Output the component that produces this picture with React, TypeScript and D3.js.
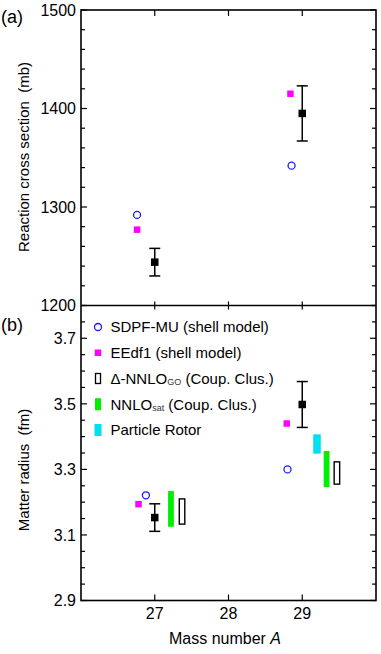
import React, {useRef, useEffect} from 'react';
import * as d3 from 'd3';

// ---- data ----
const massNumbers = [27, 29];

// panel (a): reaction cross section (mb)
const expSigma = [1244, 1395];
const expSigmaErr = [14, 28];
const sdpfSigmaA = [26.76, 28.855];
const sdpfSigma = [1292, 1342];
const eedfSigmaA = [26.76, 28.84];
const eedfSigma = [1277, 1415];

// panel (b): matter radius (fm)
const expRadius = [3.153, 3.498];
const expRadiusErr = [0.042, 0.07];
const sdpfRadiusA = [26.88, 28.8];
const sdpfRadius = [3.221, 3.30];
const eedfRadiusA = [26.78, 28.79];
const eedfRadius = [3.194, 3.44];
const nnloSatA = [27.22, 29.33];
const nnloSatLow = [3.125, 3.246];
const nnloSatHigh = [3.234, 3.356];
const deltaGoA = [27.37, 29.47];
const deltaGoLow = [3.133, 3.255];
const deltaGoHigh = [3.21, 3.323];
const rotorA = [29.2];
const rotorLow = [3.348];
const rotorHigh = [3.407];

const xTicks = [27, 28, 29];
const sigmaMajor = [1200, 1300, 1400, 1500];
const radiusMajor = [2.9, 3.1, 3.3, 3.5, 3.7];

const legendItems = ['SDPF-MU', 'EEdf1', 'DeltaGO', 'NNLOsat', 'Rotor'];

const FONT = 'Liberation Sans, Arial, Helvetica, sans-serif';
const MAGENTA = '#ff00ff';
const GREEN = '#00ee00';
const CYAN = '#00e0f0';
const BLUE = '#1a1aff';

const Chart = ({width = 381, height = 654}) => {
    const svgRef = useRef(null);

    useEffect(() => {
        const margin = {left: 81, right: 5, top: 10, mid: 305.5, bottom: 600.5};

        const svg = d3.select(svgRef.current);
        svg.selectAll('*').remove();

        const x = d3.scaleLinear().domain([26, 30]).range([margin.left, width - margin.right]);
        const ySigma = d3.scaleLinear().domain([1200, 1500]).range([margin.mid, margin.top]);
        const yRad = d3.scaleLinear().domain([2.9, 3.8]).range([margin.bottom, margin.mid]);

        // ticks on both sides, inward
        function yTicks(scale, step, nMinorPerMajor, major, fmt) {
            const [lo, hi] = scale.domain();
            const n = Math.round((hi - lo) / step);
            for (let i = 0; i <= n; i++) {
                const v = lo + i * step;
                const isMajor = i % nMinorPerMajor === 0;
                const len = isMajor ? 6 : 4;
                const yy = scale(v);
                svg.append('line').attr('x1', x.range()[0]).attr('x2', x.range()[0] + len)
                    .attr('y1', yy).attr('y2', yy).attr('stroke', 'black').attr('stroke-width', 1.2);
                svg.append('line').attr('x1', x.range()[1]).attr('x2', x.range()[1] - len)
                    .attr('y1', yy).attr('y2', yy).attr('stroke', 'black').attr('stroke-width', 1.2);
            }
            major.forEach(v => {
                svg.append('text')
                    .attr('x', x.range()[0] - 5)
                    .attr('y', scale(v))
                    .attr('dy', '0.36em')
                    .attr('text-anchor', 'end')
                    .attr('font-family', FONT)
                    .attr('font-size', '16px')
                    .text(fmt(v));
            });
        }

        yTicks(ySigma, 20, 5, sigmaMajor, d3.format('d'));
        yTicks(yRad, 0.05, 4, radiusMajor, d3.format('.1f'));

        // x ticks
        xTicks.forEach(v => {
            const xx = x(v);
            svg.append('line').attr('x1', xx).attr('x2', xx).attr('y1', margin.top).attr('y2', margin.top + 6)
                .attr('stroke', 'black').attr('stroke-width', 1.2);
            svg.append('line').attr('x1', xx).attr('x2', xx).attr('y1', margin.mid - 4).attr('y2', margin.mid + 4)
                .attr('stroke', 'black').attr('stroke-width', 1.2);
            svg.append('line').attr('x1', xx).attr('x2', xx).attr('y1', margin.bottom).attr('y2', margin.bottom - 6)
                .attr('stroke', 'black').attr('stroke-width', 1.2);
            svg.append('text')
                .attr('x', xx).attr('y', 619)
                .attr('text-anchor', 'middle')
                .attr('font-family', FONT).attr('font-size', '16px')
                .text(v);
        });

        // frames
        svg.append('rect')
            .attr('x', x.range()[0]).attr('y', margin.top)
            .attr('width', x.range()[1] - x.range()[0]).attr('height', margin.bottom - margin.top)
            .attr('fill', 'none').attr('stroke', 'black').attr('stroke-width', 1.6);
        svg.append('line')
            .attr('x1', x.range()[0]).attr('x2', x.range()[1])
            .attr('y1', margin.mid).attr('y2', margin.mid)
            .attr('stroke', 'black').attr('stroke-width', 1.6);

        // axis labels
        svg.append('text')
            .attr('transform', 'translate(29,157) rotate(-90)')
            .attr('text-anchor', 'middle')
            .attr('font-family', FONT).attr('font-size', '15px')
            .attr('xml:space', 'preserve')
            .text('Reaction cross section  (mb)');
        svg.append('text')
            .attr('transform', 'translate(29,470) rotate(-90)')
            .attr('text-anchor', 'middle')
            .attr('font-family', FONT).attr('font-size', '15px')
            .attr('xml:space', 'preserve')
            .text('Matter radius  (fm)');
        const xl = svg.append('text')
            .attr('x', 225).attr('y', 644)
            .attr('text-anchor', 'middle')
            .attr('font-family', FONT).attr('font-size', '16px');
        xl.append('tspan').text('Mass number ');
        xl.append('tspan').attr('font-style', 'italic').text('A');

        svg.append('text').attr('x', 1).attr('y', 23)
            .attr('font-family', FONT).attr('font-size', '18px').text('(a)');
        svg.append('text').attr('x', 1).attr('y', 331)
            .attr('font-family', FONT).attr('font-size', '18px').text('(b)');

        // marker helpers
        const circle = (g, cx, cy) => g.append('circle').attr('cx', cx).attr('cy', cy).attr('r', 3.5)
            .attr('fill', 'none').attr('stroke', BLUE).attr('stroke-width', 1.3);
        const square = (g, cx, cy, s, color) => g.append('rect')
            .attr('x', cx - s / 2).attr('y', cy - s / 2).attr('width', s).attr('height', s).attr('fill', color);
        const errbar = (g, cx, cy, lo, hi) => {
            g.append('line').attr('x1', cx).attr('x2', cx).attr('y1', lo).attr('y2', hi)
                .attr('stroke', 'black').attr('stroke-width', 1.5);
            [lo, hi].forEach(yy => g.append('line').attr('x1', cx - 5.5).attr('x2', cx + 5.5)
                .attr('y1', yy).attr('y2', yy).attr('stroke', 'black').attr('stroke-width', 1.5));
            square(g, cx, cy, 7.5, 'black');
        };

        const g = svg.append('g');

        // panel (a)
        sdpfSigma.forEach((v, i) => circle(g, x(sdpfSigmaA[i]), ySigma(v)));
        eedfSigma.forEach((v, i) => square(g, x(eedfSigmaA[i]), ySigma(v), 6.5, MAGENTA));
        expSigma.forEach((v, i) => errbar(g, x(massNumbers[i]), ySigma(v),
            ySigma(v - expSigmaErr[i]), ySigma(v + expSigmaErr[i])));

        // panel (b)
        const band = (a, lo, hi, w, fill, stroke) => g.append('rect')
            .attr('x', x(a) - w / 2).attr('y', yRad(hi))
            .attr('width', w).attr('height', yRad(lo) - yRad(hi))
            .attr('fill', fill).attr('stroke', stroke || 'none').attr('stroke-width', 1.4);

        rotorA.forEach((a, i) => band(a, rotorLow[i], rotorHigh[i], 7.5, CYAN));
        nnloSatA.forEach((a, i) => band(a, nnloSatLow[i], nnloSatHigh[i], 5.8, GREEN));
        deltaGoA.forEach((a, i) => band(a, deltaGoLow[i], deltaGoHigh[i], 5.5, 'white', 'black'));
        sdpfRadius.forEach((v, i) => circle(g, x(sdpfRadiusA[i]), yRad(v)));
        eedfRadius.forEach((v, i) => square(g, x(eedfRadiusA[i]), yRad(v), 6.5, MAGENTA));
        expRadius.forEach((v, i) => errbar(g, x(massNumbers[i]), yRad(v),
            yRad(v - expRadiusErr[i]), yRad(v + expRadiusErr[i])));

        // legend
        const legY = d3.scalePoint().domain(legendItems).range([327, 430]);
        const lx = 98;
        const tx = 110.5;
        legendItems.forEach(key => {
            const yy = legY(key);
            const t = svg.append('text').attr('x', tx).attr('y', yy).attr('dy', '0.36em')
                .attr('font-family', FONT).attr('font-size', '15px');
            if (key === 'SDPF-MU') {
                circle(svg, lx, yy);
                t.text('SDPF-MU (shell model)');
            } else if (key === 'EEdf1') {
                square(svg, lx, yy, 6.5, MAGENTA);
                t.text('EEdf1 (shell model)');
            } else if (key === 'DeltaGO') {
                svg.append('rect').attr('x', lx - 2.5).attr('y', yy - 5).attr('width', 5).attr('height', 10)
                    .attr('fill', 'white').attr('stroke', 'black').attr('stroke-width', 1.3);
                t.append('tspan').text('\u0394-NNLO');
                t.append('tspan').attr('font-size', '9px').attr('dy', '0.15em').attr('fill', '#333').text('GO');
                t.append('tspan').attr('dy', '-0.1em').text(' (Coup. Clus.)');
            } else if (key === 'NNLOsat') {
                svg.append('rect').attr('x', lx - 3).attr('y', yy - 6).attr('width', 6).attr('height', 12)
                    .attr('fill', GREEN);
                t.append('tspan').text('NNLO');
                t.append('tspan').attr('font-size', '9px').attr('dy', '0.2em').attr('fill', '#333').text('sat');
                t.append('tspan').attr('dy', '-0.13em').text(' (Coup. Clus.)');
            } else {
                svg.append('rect').attr('x', lx - 3.5).attr('y', yy - 6).attr('width', 7).attr('height', 12)
                    .attr('fill', CYAN);
                t.text('Particle Rotor');
            }
        });
    }, [width, height]);

    return <svg ref={svgRef} width={width} height={height}
                style={{position: 'absolute', left: 0, top: 0, background: 'white'}}/>;
};

export default function App() {
    return <Chart/>;
}
